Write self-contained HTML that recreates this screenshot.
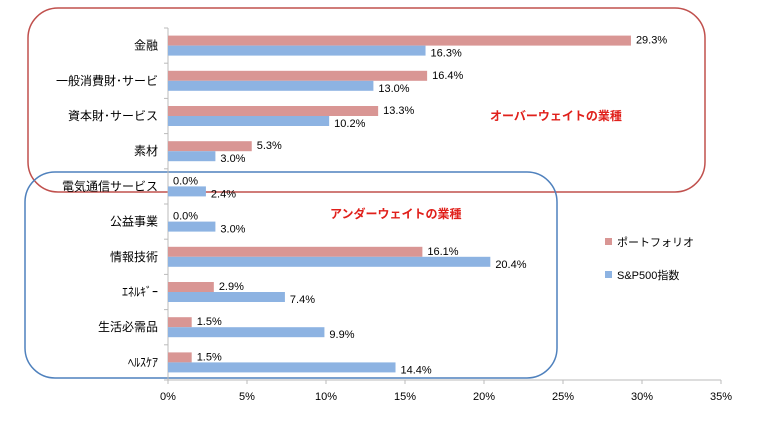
<!DOCTYPE html>
<html><head><meta charset="utf-8"><style>
body{margin:0;background:#fff;font-family:"Liberation Sans","Noto Sans CJK JP",sans-serif}
svg text{font-family:"Liberation Sans","Noto Sans CJK JP",sans-serif}
</style></head><body>
<svg id="c" width="760" height="431" viewBox="0 0 760 431">
<rect x="28" y="8" width="677" height="184" rx="30" fill="none" stroke="#c0504d" stroke-width="1.5"/>
<rect x="25" y="172" width="532" height="206" rx="30" fill="none" stroke="#4f81bd" stroke-width="1.5"/>
<text x="490" y="120" fill="#e0201b" font-size="12" font-weight="bold">オーバーウェイトの業種</text>
<text x="330" y="218" fill="#e0201b" font-size="12" font-weight="bold">アンダーウェイトの業種</text>
<g id="plot"></g>
<rect x="605" y="238" width="7" height="7" fill="#d99694"/>
<text x="617" y="246" font-size="11">ポートフォリオ</text>
<rect x="605" y="271" width="7" height="7" fill="#8db3e2"/>
<text x="617" y="279" font-size="11">S&amp;P500指数</text>
</svg>
<script>
const categories=["金融","一般消費財･サービ","資本財･サービス","素材","電気通信サービス","公益事業","情報技術","ｴﾈﾙｷﾞｰ","生活必需品","ﾍﾙｽｹｱ"];
const portfolio=[29.3,16.4,13.3,5.3,0.0,0.0,16.1,2.9,1.5,1.5];
const sp500=[16.3,13.0,10.2,3.0,2.4,3.0,20.4,7.4,9.9,14.4];
const ticks=[0,5,10,15,20,25,30,35];
const ns="http://www.w3.org/2000/svg";
const g=document.getElementById("plot");
const X0=168,X1=721,Y0=28,Y1=380;
const xs=v=>X0+(v-0)/(35-0)*(X1-X0);
const band=(Y1-Y0)/categories.length;
function mk(t,a){const e=document.createElementNS(ns,t);for(const k in a)e.setAttribute(k,a[k]);g.appendChild(e);return e;}
let ax=mk("line",{x1:X0,y1:Y0,x2:X0,y2:Y1,stroke:"#bbb"});


let bx=mk("line",{x1:X0,y1:Y1,x2:X1,y2:Y1,stroke:"#bbb"});


ticks.forEach(t=>{
  let l=mk("line",{x1:xs(t),y1:Y1,x2:xs(t),y2:Y1+4,stroke:"#bbb"});
  
  
  let tx=mk("text",{x:xs(t),y:Y1+20,"font-size":"11","text-anchor":"middle"});
  tx.textContent=t+"%";
  
  
});
for(let i=0;i<=categories.length;i++){
  let l=mk("line",{x1:X0-4,y1:Y0+i*band,x2:X0,y2:Y0+i*band,stroke:"#bbb"});
  
  
}
categories.forEach((c,i)=>{
  const cy=Y0+band*(i+0.5);
  let t=mk("text",{x:158,y:cy+4,"font-size":"12","text-anchor":"end"});
  t.textContent=c;
  
  
  let r=mk("rect",{x:X0,y:cy-10,width:xs(portfolio[i])-X0,height:10,fill:"#d99694"});
  
  
  let b=mk("rect",{x:X0,y:cy,width:xs(sp500[i])-X0,height:10,fill:"#8db3e2"});
  
  
  let lp=mk("text",{x:xs(portfolio[i])+5,y:cy-2,"font-size":"11"});
  lp.textContent=portfolio[i].toFixed(1)+"%";
  
  
  let ls=mk("text",{x:xs(sp500[i])+5,y:cy+11,"font-size":"11"});
  ls.textContent=sp500[i].toFixed(1)+"%";
  
  
});
</script>
</body></html>
